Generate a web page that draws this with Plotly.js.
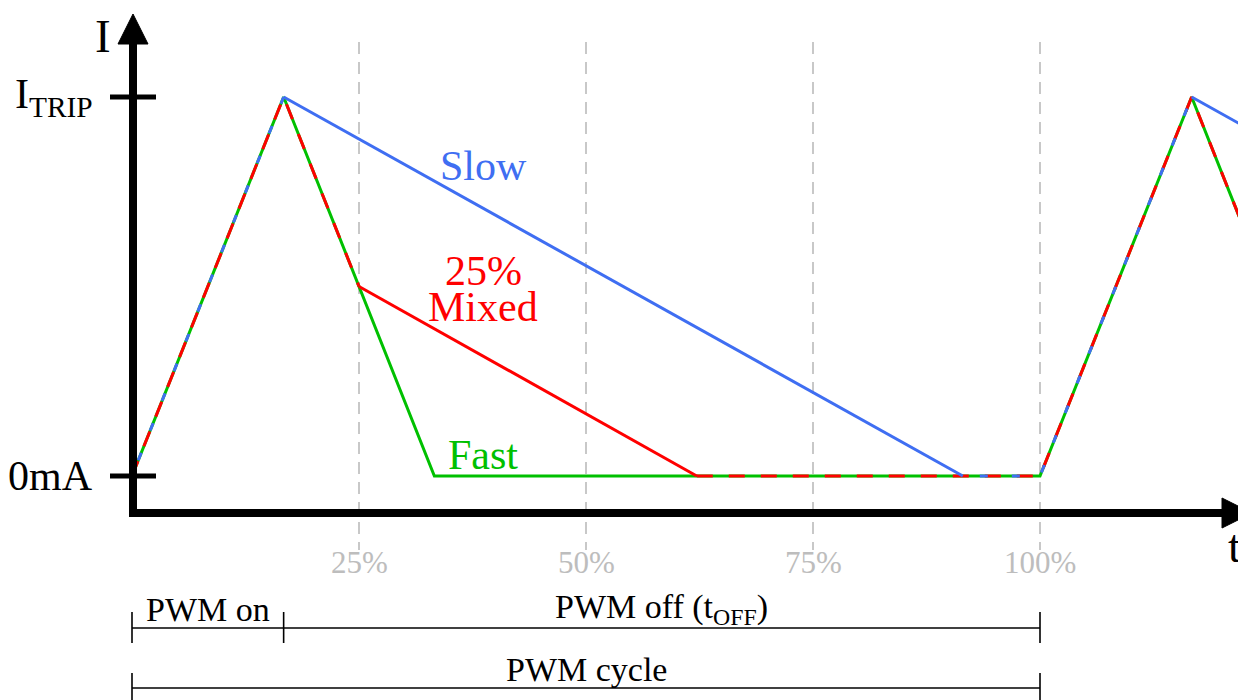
<!DOCTYPE html>
<html>
<head>
<meta charset="utf-8">
<script src="https://cdn.plot.ly/plotly-3.0.1.min.js"></script>
<style>
  html, body { margin: 0; padding: 0; background: #fff; }
  #chart { width: 1238px; height: 700px; }
</style>
</head>
<body>
<div id="chart"></div>
<script>
// ---- data (time in % of PWM cycle, current normalised to I_TRIP) ----
const tickPct = [25, 50, 75, 100];
const tickText = ['25%', '50%', '75%', '100%'];
const yTickVals = [0, 1];
const yTickText = ['0mA', 'I<sub>TRIP</sub>'];

const slowT  = [0, 16.7, 91.5, 100, 116.7, 191.5];
const slowI  = [0, 1, 0, 0, 1, 0];
const mixedT = [0, 16.7, 25, 62.2, 100, 116.7, 125, 162.2];
const mixedI = [0, 1, 0.5, 0, 0, 1, 0.5, 0];
const fastT  = [0, 16.7, 33.3, 100, 116.7, 133.3];
const fastI  = [0, 1, 0, 0, 1, 0];

const pwmOnEnd = 16.7;
const cycleEnd = 100;

// ---- styling ----
const W = 1238, H = 700;
const BLUE = '#3f6ef2', RED = '#ff0000', GREEN = '#00c000';
const FONT = 'Liberation Serif';
const LW = 3;
const RED_DASH = '16px,16px';
const BLUE_DASH = '0px,17px,8px,7px';

const px = v => v / W;          // pixel -> paper x
const py = v => 1 - v / H;      // pixel -> paper y

function seg(t, i, a, b, color, dash) {
  return {
    type: 'scatter', mode: 'lines',
    x: t.slice(a, b + 1), y: i.slice(a, b + 1),
    line: { color: color, width: LW, dash: dash || 'solid' },
    hoverinfo: 'skip', showlegend: false
  };
}

const traces = [
  seg(fastT, fastI, 0, fastT.length - 1, GREEN),
  seg(mixedT, mixedI, 2, 3, RED),
  seg(mixedT, mixedI, 0, 2, RED, RED_DASH),
  seg(mixedT, mixedI, 3, mixedT.length - 1, RED, RED_DASH),
  seg(slowT, slowI, 1, 2, BLUE),
  seg(slowT, slowI, 4, 5, BLUE),
  seg(slowT, slowI, 0, 1, BLUE, BLUE_DASH),
  seg(slowT, slowI, 2, 4, BLUE, BLUE_DASH)
];

const shapes = [];
const annotations = [];

// dashed vertical guides at the tick positions
tickPct.forEach((p, k) => {
  shapes.push({ type: 'line', layer: 'below', xref: 'x', yref: 'paper',
    x0: p, x1: p, y0: py(42), y1: py(550),
    line: { color: '#c8c8c8', width: 2, dash: '12px,8px' } });
  annotations.push({ xref: 'x', yref: 'paper', x: p, y: py(562),
    text: tickText[k], showarrow: false, xanchor: 'center', yanchor: 'middle',
    font: { family: FONT, size: 31, color: '#bdbdbd' } });
});

// axes (thick black with arrowheads)
const AX = 133, AY = 513;
shapes.push({ type: 'line', layer: 'above', xref: 'paper', yref: 'paper',
  x0: px(AX), x1: px(AX), y0: py(AY + 4), y1: py(40), line: { color: '#000', width: 8 } });
shapes.push({ type: 'line', layer: 'above', xref: 'paper', yref: 'paper',
  x0: px(AX - 4), x1: px(1228), y0: py(AY), y1: py(AY), line: { color: '#000', width: 8 } });
shapes.push({ type: 'path', layer: 'above', xref: 'paper', yref: 'paper',
  path: `M ${px(AX)} ${py(14)} L ${px(AX - 15)} ${py(44)} L ${px(AX + 15)} ${py(44)} Z`,
  fillcolor: '#000', line: { color: '#000', width: 1 } });
shapes.push({ type: 'path', layer: 'above', xref: 'paper', yref: 'paper',
  path: `M ${px(1252)} ${py(AY)} L ${px(1222)} ${py(AY - 15)} L ${px(1222)} ${py(AY + 15)} Z`,
  fillcolor: '#000', line: { color: '#000', width: 1 } });

// y tick marks and labels
yTickVals.forEach((v, k) => {
  shapes.push({ type: 'line', layer: 'above', xref: 'paper', yref: 'y',
    x0: px(110), x1: px(156), y0: v, y1: v, line: { color: '#000', width: 5 } });
  annotations.push({ xref: 'paper', yref: 'y', x: px(95), y: v,
    text: yTickText[k], showarrow: false, xanchor: 'right', yanchor: 'middle',
    font: { family: FONT, size: 42, color: '#000' } });
});

// axis letters
annotations.push({ xref: 'paper', yref: 'paper', x: px(103), y: py(36), text: 'I',
  showarrow: false, xanchor: 'center', yanchor: 'middle',
  font: { family: FONT, size: 47, color: '#000' } });
annotations.push({ xref: 'paper', yref: 'paper', x: px(1226), y: py(546), text: 't',
  showarrow: false, xanchor: 'left', yanchor: 'middle',
  font: { family: FONT, size: 47, color: '#000' } });

// curve labels
const lbl = (x, y, t, c) => annotations.push({ xref: 'paper', yref: 'paper',
  x: px(x), y: py(y), text: t, showarrow: false, xanchor: 'center', yanchor: 'middle',
  font: { family: FONT, size: 42, color: c } });
lbl(483, 166, 'Slow', BLUE);
lbl(483, 271, '25%', RED);
lbl(483, 307, 'Mixed', RED);
lbl(483, 455, 'Fast', GREEN);

// PWM brackets
const bracket = (x0, x1, yLine, yTop, yBot, ticksAt) => {
  shapes.push({ type: 'line', xref: 'x', yref: 'paper', x0: x0, x1: x1,
    y0: py(yLine), y1: py(yLine), line: { color: '#000', width: 1.6 } });
  ticksAt.forEach(t => shapes.push({ type: 'line', xref: 'x', yref: 'paper',
    x0: t, x1: t, y0: py(yTop), y1: py(yBot), line: { color: '#000', width: 1.6 } }));
};
bracket(0, cycleEnd, 628, 612, 643, [0, pwmOnEnd, cycleEnd]);
bracket(0, cycleEnd, 688, 673, 705, [0, cycleEnd]);
const blab = (x, y, t) => annotations.push({ xref: 'x', yref: 'paper', x: x, y: py(y),
  text: t, showarrow: false, xanchor: 'center', yanchor: 'middle',
  font: { family: FONT, size: 34, color: '#000' } });
blab(pwmOnEnd / 2, 609, 'PWM on');
blab((pwmOnEnd + cycleEnd) / 2, 609, 'PWM off (t<sub>OFF</sub>)');
blab(cycleEnd / 2, 669, 'PWM cycle');

const pxPerPct = (1040 - 132) / 100;
const pxPerI = 476 - 97;
const layout = {
  width: W, height: H,
  margin: { l: 0, r: 0, t: 0, b: 0, pad: 0 },
  paper_bgcolor: '#fff', plot_bgcolor: '#fff',
  showlegend: false,
  xaxis: { range: [-132 / pxPerPct, (W - 132) / pxPerPct], visible: false, fixedrange: true },
  yaxis: { range: [-(H - 476) / pxPerI, 476 / pxPerI], visible: false, fixedrange: true },
  shapes: shapes,
  annotations: annotations
};

Plotly.newPlot('chart', traces, layout, { staticPlot: true, displayModeBar: false });
</script>
</body>
</html>
